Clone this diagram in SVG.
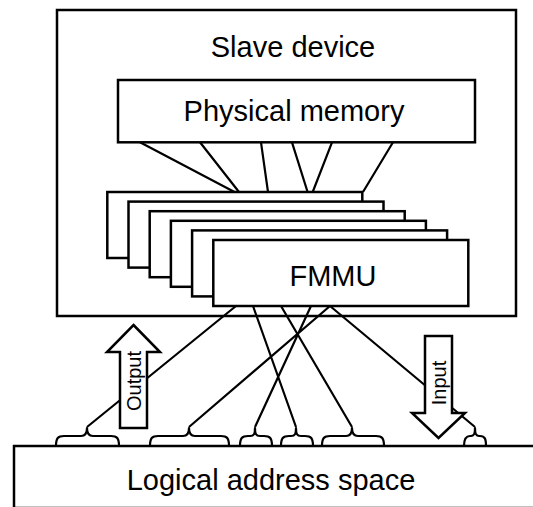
<svg xmlns="http://www.w3.org/2000/svg" width="533" height="507" viewBox="0 0 533 507">
<style>
.box{fill:#fff;stroke:#000;stroke-width:2.5}
.ln{fill:none;stroke:#000;stroke-width:2.2;stroke-linejoin:round}
.t{font-family:"Liberation Sans",Arial,sans-serif;font-size:29px;fill:#000;text-anchor:middle}
.s{font-family:"Liberation Sans",Arial,sans-serif;font-size:20px;fill:#000;text-anchor:middle}
.ar{fill:#fff;stroke:#000;stroke-width:2.5;stroke-linejoin:miter}
</style>
<rect width="533" height="507" fill="#fff"/>
<g id="slave">
<rect class="box" x="57" y="10" width="459" height="306"/>
<text class="t" x="293" y="57">Slave device</text>
</g>
<g id="physical-memory">
<rect class="box" x="118" y="80" width="357" height="62.3"/>
<text class="t" x="294" y="121">Physical memory</text>
</g>
<g id="connectors-upper">
<path class="ln" d="M140,142.3L234.5,192M200,142.3L239,192M261,142.3L268,192M292,142.3L307.6,192M332,142.3L312.7,192M393,142.3L363,192"/>
</g>
<g id="fmmu">
<rect class="box" x="107.3" y="192" width="255" height="66"/>
<rect class="box" x="128.5" y="201.6" width="255" height="66"/>
<rect class="box" x="149.7" y="211.2" width="255" height="66"/>
<rect class="box" x="170.9" y="220.8" width="255" height="66"/>
<rect class="box" x="192.1" y="230.4" width="255" height="66"/>
<rect class="box" x="213.3" y="240" width="255" height="66"/>
<text class="t" x="333" y="286">FMMU</text>
</g>
<g id="logical-address-space">
<rect class="box" x="14" y="446" width="540" height="62"/>
<text class="t" x="271" y="490">Logical address space</text>
</g>
<g id="connectors-lower">
<path class="ln" d="M236,306L87,427M253,306L296,427M281,306L352,427M311,306L255,427M330,306L189,427M330,306L475,427"/>
</g>
<g id="brackets">
<path class="ln" d="M56,446C56,438 58,436 64,436L81,436C85,436 87,434 87,428C87,434 89,436 93,436L111,436C117,436 119,438 119,446"/>
<path class="ln" d="M150,446C150,438 152,436 158,436L183,436C187,436 189,434 189,428C189,434 191,436 195,436L221,436C227,436 229,438 229,446"/>
<path class="ln" d="M240,446C240,438 242,436 248,436L250,436C254,436 255,434 255,428C255,434 256,436 260,436L264,436C270,436 272,438 272,446"/>
<path class="ln" d="M281,446C281,438 283,436 289,436L291,436C295,436 296,434 296,428C296,434 297,436 301,436L305,436C311,436 313,438 313,446"/>
<path class="ln" d="M322,446C322,438 324,436 330,436L346,436C350,436 352,434 352,428C352,434 354,436 358,436L376,436C382,436 384,438 384,446"/>
<path class="ln" d="M464,446C464,439 466,436 470,436L471,436C474,436 475,434 475,428C475,434 476,436 479,436L480,436C485,436 486,439 486,446"/>
</g>
<g id="output-arrow">
<polygon class="ar" points="133.5,325 160,352 147,352 147,428 120,428 120,352 107,352"/>
<text class="s" transform="translate(133.5,381) rotate(-90)" x="0" y="7">Output</text>
</g>
<g id="input-arrow">
<polygon class="ar" points="425,336 452,336 452,413 465,413 438.5,438 412,413 425,413"/>
<text class="s" transform="translate(438.5,383) rotate(-90)" x="0" y="7">Input</text>
</g>
</svg>
